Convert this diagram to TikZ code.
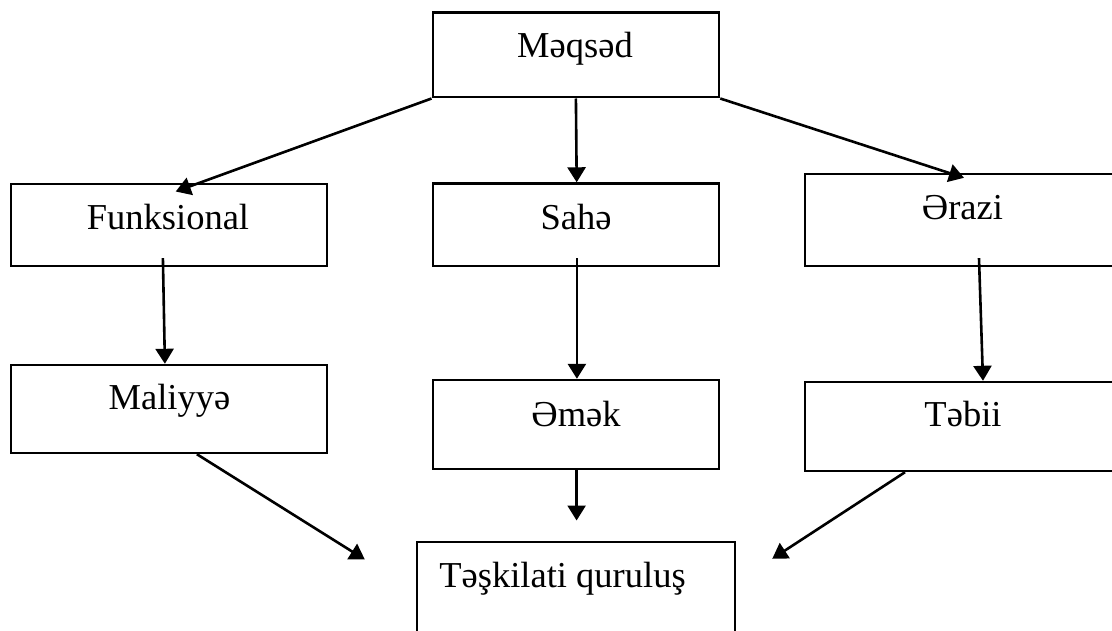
\documentclass[tikz,border=0pt]{standalone}
\usepackage{fontspec}
\setmainfont{Liberation Serif}
\usetikzlibrary{arrows.meta}
\begin{document}
\begin{tikzpicture}[x=1pt,y=-1pt,
  box/.style={draw=black, line width=2.4pt, inner sep=0pt, rectangle},
  txt/.style={anchor=base, inner sep=0pt, font=\fontsize{36.5}{40}\selectfont},
  conn/.style={line width=2.6pt, -{Triangle[length=15pt,width=18pt]}}]
\useasboundingbox (0,0) rectangle (1112,631);
\clip (0,0) rectangle (1112,631);
% boxes
\node[box, minimum width=286.3pt, minimum height=84.6pt] (m) at (575.9,55) {};
\node[box, minimum width=316.3pt, minimum height=82pt] (f) at (168.9,225) {};
\node[box, minimum width=286.3pt, minimum height=82.5pt] (s) at (575.9,224.75) {};
\node[box, minimum width=316pt, minimum height=92pt] (e) at (963,220) {};
\node[box, minimum width=316.3pt, minimum height=88pt] (ma) at (168.9,409) {};
\node[box, minimum width=286.3pt, minimum height=89pt] (em) at (575.9,424.5) {};
\node[box, minimum width=316pt, minimum height=89pt] (t) at (963,426.5) {};
\node[box, minimum width=318.3pt, minimum height=130pt] (q) at (575.9,606.7) {};
% texts
\node[txt] (mt) at (575,57.3) {Məqsəd};
\node[txt] (ft) at (168,229.3) {Funksional};
\node[txt] (st) at (576,230) {Sahə};
\node[txt] (et) at (962.5,219.3) {Ərazi};
\node[txt] (mat) at (169.5,409.3) {Maliyyə};
\node[txt] (emt) at (576,426) {Əmək};
\node[txt] (tt) at (963,426.7) {Təbii};
\node[txt] (qt) at (562.5,587) {Təşkilati quruluş};
% connectors
\draw[conn] (m.south west) -- ([xshift=6.8pt,yshift=-8.7pt]f.north);
\draw[conn] (m.south) -- ([xshift=0.8pt]s.north);
\draw[conn] (m.south east) -- ([xshift=1pt,yshift=-5pt]e.north);
\draw[conn] ([xshift=-6pt,yshift=9pt]f.south) -- ([xshift=-4pt]ma.north);
\draw[conn] ([xshift=1pt,yshift=9pt]s.south) -- ([xshift=1pt]em.north);
\draw[conn] ([xshift=16pt,yshift=9pt]e.south) -- ([xshift=20pt]t.north);
\draw[conn] ([xshift=28pt]ma.south) -- ([xshift=-50.7pt,yshift=-19pt]q.north west);
\draw[conn] ([xshift=0.7pt]em.south) -- ([xshift=0.7pt,yshift=20pt]q.north);
\draw[conn] ([xshift=-58pt]t.south) -- ([xshift=36pt,yshift=-18.3pt]q.north east);
\end{tikzpicture}
\end{document}
